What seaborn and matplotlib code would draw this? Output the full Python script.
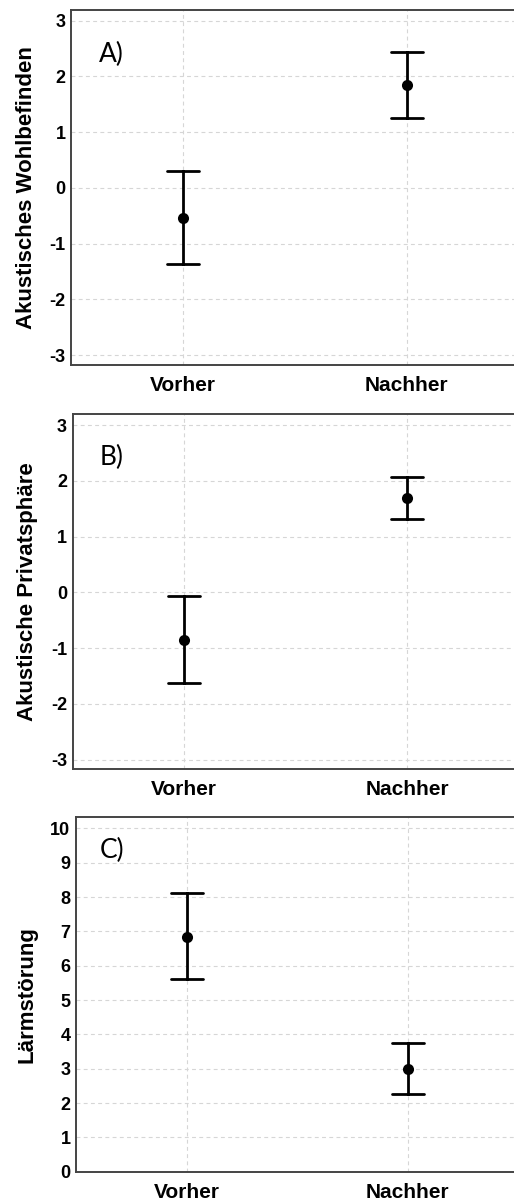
import numpy as np
import pandas as pd
import matplotlib
matplotlib.use("Agg")
import matplotlib.pyplot as plt
import seaborn as sns

# ---- data ----
groups = ["Vorher", "Nachher"]

wohl_mean = [-0.55, 1.85]
wohl_lo = [-1.37, 1.25]
wohl_hi = [0.30, 2.44]

priv_mean = [-0.85, 1.70]
priv_lo = [-1.62, 1.32]
priv_hi = [-0.07, 2.07]

laerm_mean = [6.85, 3.00]
laerm_lo = [5.60, 2.27]
laerm_hi = [8.11, 3.75]

ylabels = ["Akustisches Wohlbefinden", "Akustische Privatsphäre", "Lärmstörung"]
panel_labels = ["A)", "B)", "C)"]
yticks_ab = [-3, -2, -1, 0, 1, 2, 3]
yticks_c = list(range(0, 11))

sns.set_theme(style="white")
plt.rcParams["font.family"] = ["Liberation Sans", "DejaVu Sans"]
plt.rcParams["axes.unicode_minus"] = False


def long_df(lo, mean, hi):
    rows = []
    for g, a, m, b in zip(groups, lo, mean, hi):
        for v in (a, m, b):
            rows.append({"group": g, "value": v})
    return pd.DataFrame(rows)


datasets = [
    (wohl_lo, wohl_mean, wohl_hi),
    (priv_lo, priv_mean, priv_hi),
    (laerm_lo, laerm_mean, laerm_hi),
]

fig = plt.figure(figsize=(5.14, 12.02), dpi=100)
positions = [
    [0.138, 0.6963, 0.8716, 0.2953],
    [0.1414, 0.3602, 0.868, 0.2953],
    [0.1479, 0.0252, 0.860, 0.2953],
]
ylims = [(-3.18, 3.19), (-3.17, 3.20), (0, 10.34)]
label_pos = [(0.0625, 0.854), (0.061, 0.856), (0.054, 0.884)]

for i, (lo, mean, hi) in enumerate(datasets):
    ax = fig.add_axes(positions[i])
    df = long_df(lo, mean, hi)
    sns.pointplot(
        data=df, x="group", y="value", order=groups,
        estimator=np.median,
        errorbar=lambda v: (v.min(), v.max()),
        color="black", markers="o", linestyle="none",
        linewidth=2, markersize=8, markeredgewidth=0,
        capsize=0.145, err_kws={"linewidth": 2},
        ax=ax,
    )
    ax.set_xlim(-0.5, 1.5)
    ax.set_ylim(*ylims[i])
    ax.set_yticks(yticks_c if i == 2 else yticks_ab)
    ax.set_xlabel("")
    ax.set_ylabel(ylabels[i], fontsize=16, fontweight="bold", labelpad=9,
                  color="black")
    ax.grid(True, axis="both", linestyle=(0, (3.5, 3)), color="#d6d6d6", linewidth=0.8)
    ax.set_axisbelow(True)
    for s in ax.spines.values():
        s.set_color("#444444")
        s.set_linewidth(1.4)
    ax.tick_params(axis="y", length=0, pad=4, labelsize=13, labelcolor="black")
    ax.tick_params(axis="x", length=0, pad=8, labelsize=15, labelcolor="black")
    for t in ax.get_xticklabels() + ax.get_yticklabels():
        t.set_fontweight("bold")
    ax.text(label_pos[i][0], label_pos[i][1], panel_labels[i], transform=ax.transAxes,
            fontsize=19, family=["Lato", "DejaVu Sans"], va="baseline", ha="left",
            color="black")

fig.savefig("out.png", dpi=100)
